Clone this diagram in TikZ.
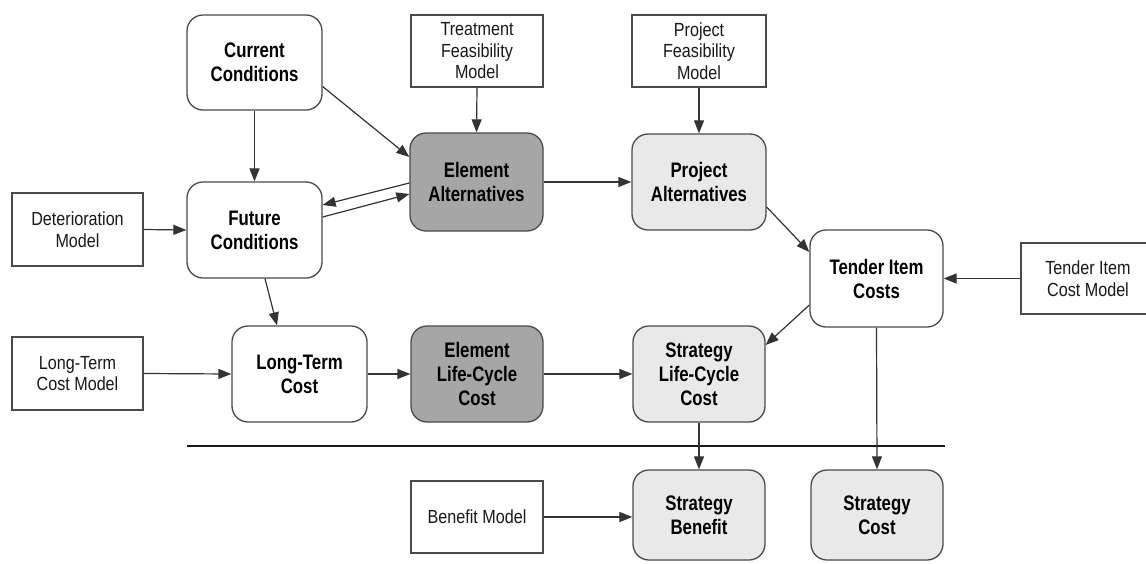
\documentclass[tikz,border=0pt]{standalone}
\usepackage{fontspec}
\setmainfont{Liberation Sans}
\newfontfamily\modelfont{Liberation Sans}[FakeStretch=0.85]
\newfontfamily\stagefont{Liberation Sans}[FakeStretch=0.80]
\usetikzlibrary{arrows.meta,calc}
\definecolor{darkfill}{HTML}{A6A6A6}
\definecolor{lightfill}{HTML}{E9E9E9}
\definecolor{edge}{HTML}{4A4A4A}
\definecolor{wire}{HTML}{333333}
\begin{document}
\begin{tikzpicture}[x=1pt,y=-1pt,
  model/.style={draw=edge,line width=1.3pt,fill=white,rectangle,
    minimum width=132pt,minimum height=72pt,inner sep=2pt,align=center,
    font=\modelfont\fontsize{19}{21.5}\selectfont,text=black!90},
  stage/.style={draw=edge,line width=1.3pt,fill=white,rectangle,rounded corners=16pt,
    minimum width=134pt,minimum height=96pt,inner sep=2pt,align=center,
    font=\stagefont\bfseries\fontsize{21}{24}\selectfont,text=black},
  element/.style={stage,fill=darkfill},
  project/.style={stage,fill=lightfill},
  flow/.style={draw=wire,line width=1.2pt,-{Triangle[length=13pt,width=10pt]}}]
\useasboundingbox (0,0) rectangle (1146,563);

% input models
\node[model] (tfm) at (477,51) {Treatment\\Feasibility\\Model};
\node[model,minimum width=134pt] (pfm) at (699,51) {Project\\Feasibility\\Model};
\node[model,minimum width=131pt,minimum height=73pt] (dm) at (77.5,229.5) {Deterioration\\Model};
\node[model,minimum width=131pt,minimum height=73pt] (ltcm) at (77.5,373.5) {Long-Term\\Cost Model};
\node[model,minimum width=134pt,minimum height=71pt] (ticm) at (1088,278.5) {Tender Item\\Cost Model};
\node[model] (bm) at (477,517) {Benefit Model};

% analysis stages
\node[stage,minimum width=135pt,minimum height=95pt] (cc) at (254.5,62.5) {Current\\Conditions};
\node[stage,minimum width=135pt] (fc) at (254.5,230) {Future\\Conditions};
\node[stage,minimum width=135pt] (ltc) at (299.5,374) {Long-Term\\Cost};
\node[element,minimum width=133pt,minimum height=98pt] (ea) at (476.5,182) {Element\\Alternatives};
\node[element,minimum width=132pt] (elcc) at (477,374) {Element\\Life-Cycle\\Cost};
\node[project] (pa) at (699,182) {Project\\Alternatives};
\node[project,minimum width=132pt] (slcc) at (699,374) {Strategy\\Life-Cycle\\Cost};
\node[stage,minimum width=133pt,minimum height=97pt] (tic) at (876.5,278.5) {Tender Item\\Costs};
\node[project,minimum width=132pt,minimum height=90pt] (sb) at (699,515) {Strategy\\Benefit};
\node[project,minimum width=132pt,minimum height=90pt] (sc) at (877,515) {Strategy\\Cost};

% separator between costs and outcomes
\coordinate (sepL) at (187,446);
\coordinate (sepR) at (945,446);
\draw[draw=black!90,line width=2.6pt] (sepL) -- (sepR);

% connectors
\draw[flow] (cc.south) -- (fc.north);
\draw[flow] ($(cc.east)+(0,24)$) -- ($(ea.west)+(0,-25)$);
\draw[flow] ($(ea.west)+(0,1)$) -- ($(fc.east)+(0,-25)$);
\draw[flow] ($(fc.east)+(0,-13)$) -- ($(ea.west)+(0,12)$);
\draw[flow] (tfm.south) -- (ea.north);
\draw[flow] (ea.east) -- (pa.west);
\draw[flow] (pfm.south) -- (pa.north);
\draw[flow] ($(pa.east)+(0,25)$) -- ($(tic.west)+(0,-26.5)$);
\draw[flow] (ticm.west) -- (tic.east);
\draw[flow] ($(tic.west)+(0,26.5)$) -- ($(slcc.east)+(0,-29)$);
\draw[flow] (dm.east) -- (fc.west);
\draw[flow] ($(fc.south)+(10.5,0)$) -- ($(ltc.north)+(-22.5,0)$);
\draw[flow] (ltcm.east) -- (ltc.west);
\draw[flow] (ltc.east) -- (elcc.west);
\draw[flow] (elcc.east) -- (slcc.west);
\draw[flow] (slcc.south) -- (sb.north);
\draw[flow] (tic.south) -- (sc.north);
\draw[flow] (bm.east) -- (bm.east -| sb.west);
\end{tikzpicture}
\end{document}
